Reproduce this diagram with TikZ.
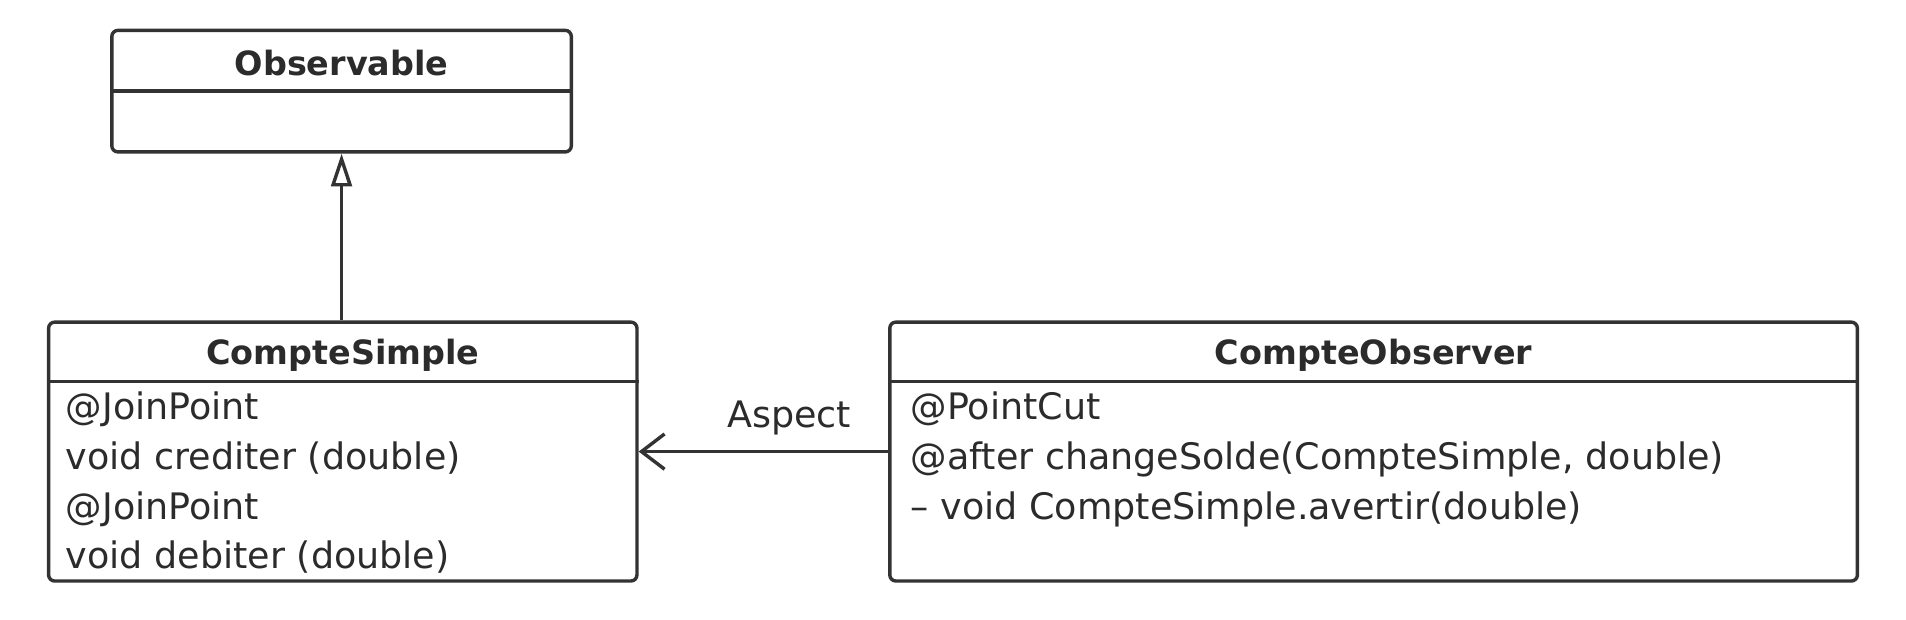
\documentclass[tikz,border=0pt]{standalone}
\usepackage{fontspec}
\setmainfont{DejaVu Sans}
\usetikzlibrary{arrows.meta,positioning}
\definecolor{LineGray}{HTML}{333333}
\definecolor{TextGray}{HTML}{2B2B2B}

\begin{document}
\begin{tikzpicture}[x=1pt, y=1pt,
		classbox/.style={draw=LineGray, line width=2.8pt, rounded corners=5pt, inner sep=0pt},
		classline/.style={draw=LineGray, line width=2.8pt},
		classname/.style={anchor=base, inner sep=0pt, text=TextGray, font=\fontsize{27.5}{33}\selectfont\bfseries},
		member/.style={anchor=base west, inner sep=0pt, text=TextGray, font=\fontsize{30}{36}\selectfont},
		inherit/.style={classline, -{Triangle[open, length=27pt, width=17pt]}},
		assoc/.style={classline, -{Straight Barb[length=19pt, width=29pt]}}]
				\useasboundingbox (0,0) rectangle (1568,510);

				% Observable
				\node[classbox, minimum width=378pt, minimum height=100pt] (observable) at (281,435) {};
				\node[classname] (observable title) at (281,448) {Observable};
				\draw[classline] (observable.west |- 0,435) -- (observable.east |- 0,435);

				% CompteSimple
				\node[classbox, minimum width=484pt, minimum height=213pt] (simple) at (282,138.5) {};
				\node[classname] (simple title) at (282,210) {CompteSimple};
				\draw[classline] (simple.west |- 0,196) -- (simple.east |- 0,196);
				\node[member] (simple m1) at (54,165) {@JoinPoint};
				\node[member] (simple m2) at (54,124) {void crediter (double)};
				\node[member] (simple m3) at (54,83) {@JoinPoint};
				\node[member] (simple m4) at (54,42) {void debiter (double)};

				% CompteObserver
				\node[classbox, minimum width=796pt, minimum height=213pt] (observer) at (1130,138.5) {};
				\node[classname] (observer title) at (1130,210) {CompteObserver};
				\draw[classline] (observer.west |- 0,196) -- (observer.east |- 0,196);
				\node[member] (observer m1) at (749,165) {@PointCut};
				\node[member] (observer m2) at (749,124) {@after changeSolde(CompteSimple, double)};
				\node[member] (observer m3) at (749,83) {– void CompteSimple.avertir(double)};

				% relations
				\draw[inherit] (observable.south |- simple.north) -- (observable.south);
				\draw[assoc] (observer.west) -- (simple.east);
				\node[member] (aspect) at (598,158) {Aspect};
			\end{tikzpicture}
\end{document}
